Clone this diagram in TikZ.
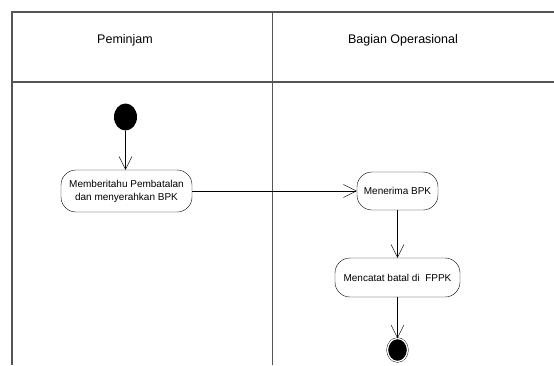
\documentclass[tikz,border=0pt]{standalone}
\usepackage{fontspec}
\setmainfont{Liberation Sans}
\usetikzlibrary{arrows.meta}
\usetikzlibrary{shapes.geometric}
\definecolor{LaneGray}{RGB}{85, 85, 85}

\begin{document}
\begin{tikzpicture}[x=1pt, y=-1pt,
    lane/.style={draw=LaneGray, line width=1.3pt},
    lane head/.style={anchor=base, font=\fontsize{12.5}{15}\selectfont},
    activity/.style={rectangle, rounded corners=15pt, draw=black, thin, align=center, inner sep=2pt, font=\fontsize{10}{13}\selectfont},
    start/.style={ellipse, fill=black, inner sep=0pt, minimum width=23pt, minimum height=27pt},
    finish/.style={ellipse, fill=black, draw=black, double=white, double distance=1.3pt, thin, inner sep=0pt, minimum width=20pt, minimum height=23pt},
    flow/.style={-{Straight Barb[length=13pt, width=13pt]}, thin}
    ]
    \useasboundingbox (0,0) rectangle (554,365);

    % swimlanes
    \draw[lane] (12,365) -- (12,12) -- (554,12);
    \draw[lane] (12,82) -- (554,82);
    \draw[lane] (272.5,12) -- (272.5,365);
    \node[lane head] (peminjam) at (125,43) {Peminjam};
    \node[lane head] (bagian) at (403,43) {Bagian Operasional};

    % activities
    \node[start] (mulai) at (125.5,117) {};
    \node[activity, minimum width=131pt, minimum height=42pt] (beritahu) at (126.5,191) {Memberitahu Pembatalan\\dan menyerahkan BPK};
    \node[activity, minimum width=81pt, minimum height=38pt] (terima) at (397.5,191) {Menerima BPK};
    \node[activity, minimum width=125pt, minimum height=39pt] (catat) at (397.5,277.5) {Mencatat batal di\ \ FPPK};
    \node[finish] (selesai) at (397.5,350) {};

    % flows
    \draw[flow] (mulai) -- (mulai |- beritahu.north);
    \draw[flow] (beritahu) -- (terima);
    \draw[flow] (terima) -- (catat);
    \draw[flow] (catat) -- (selesai);
\end{tikzpicture}
\end{document}
